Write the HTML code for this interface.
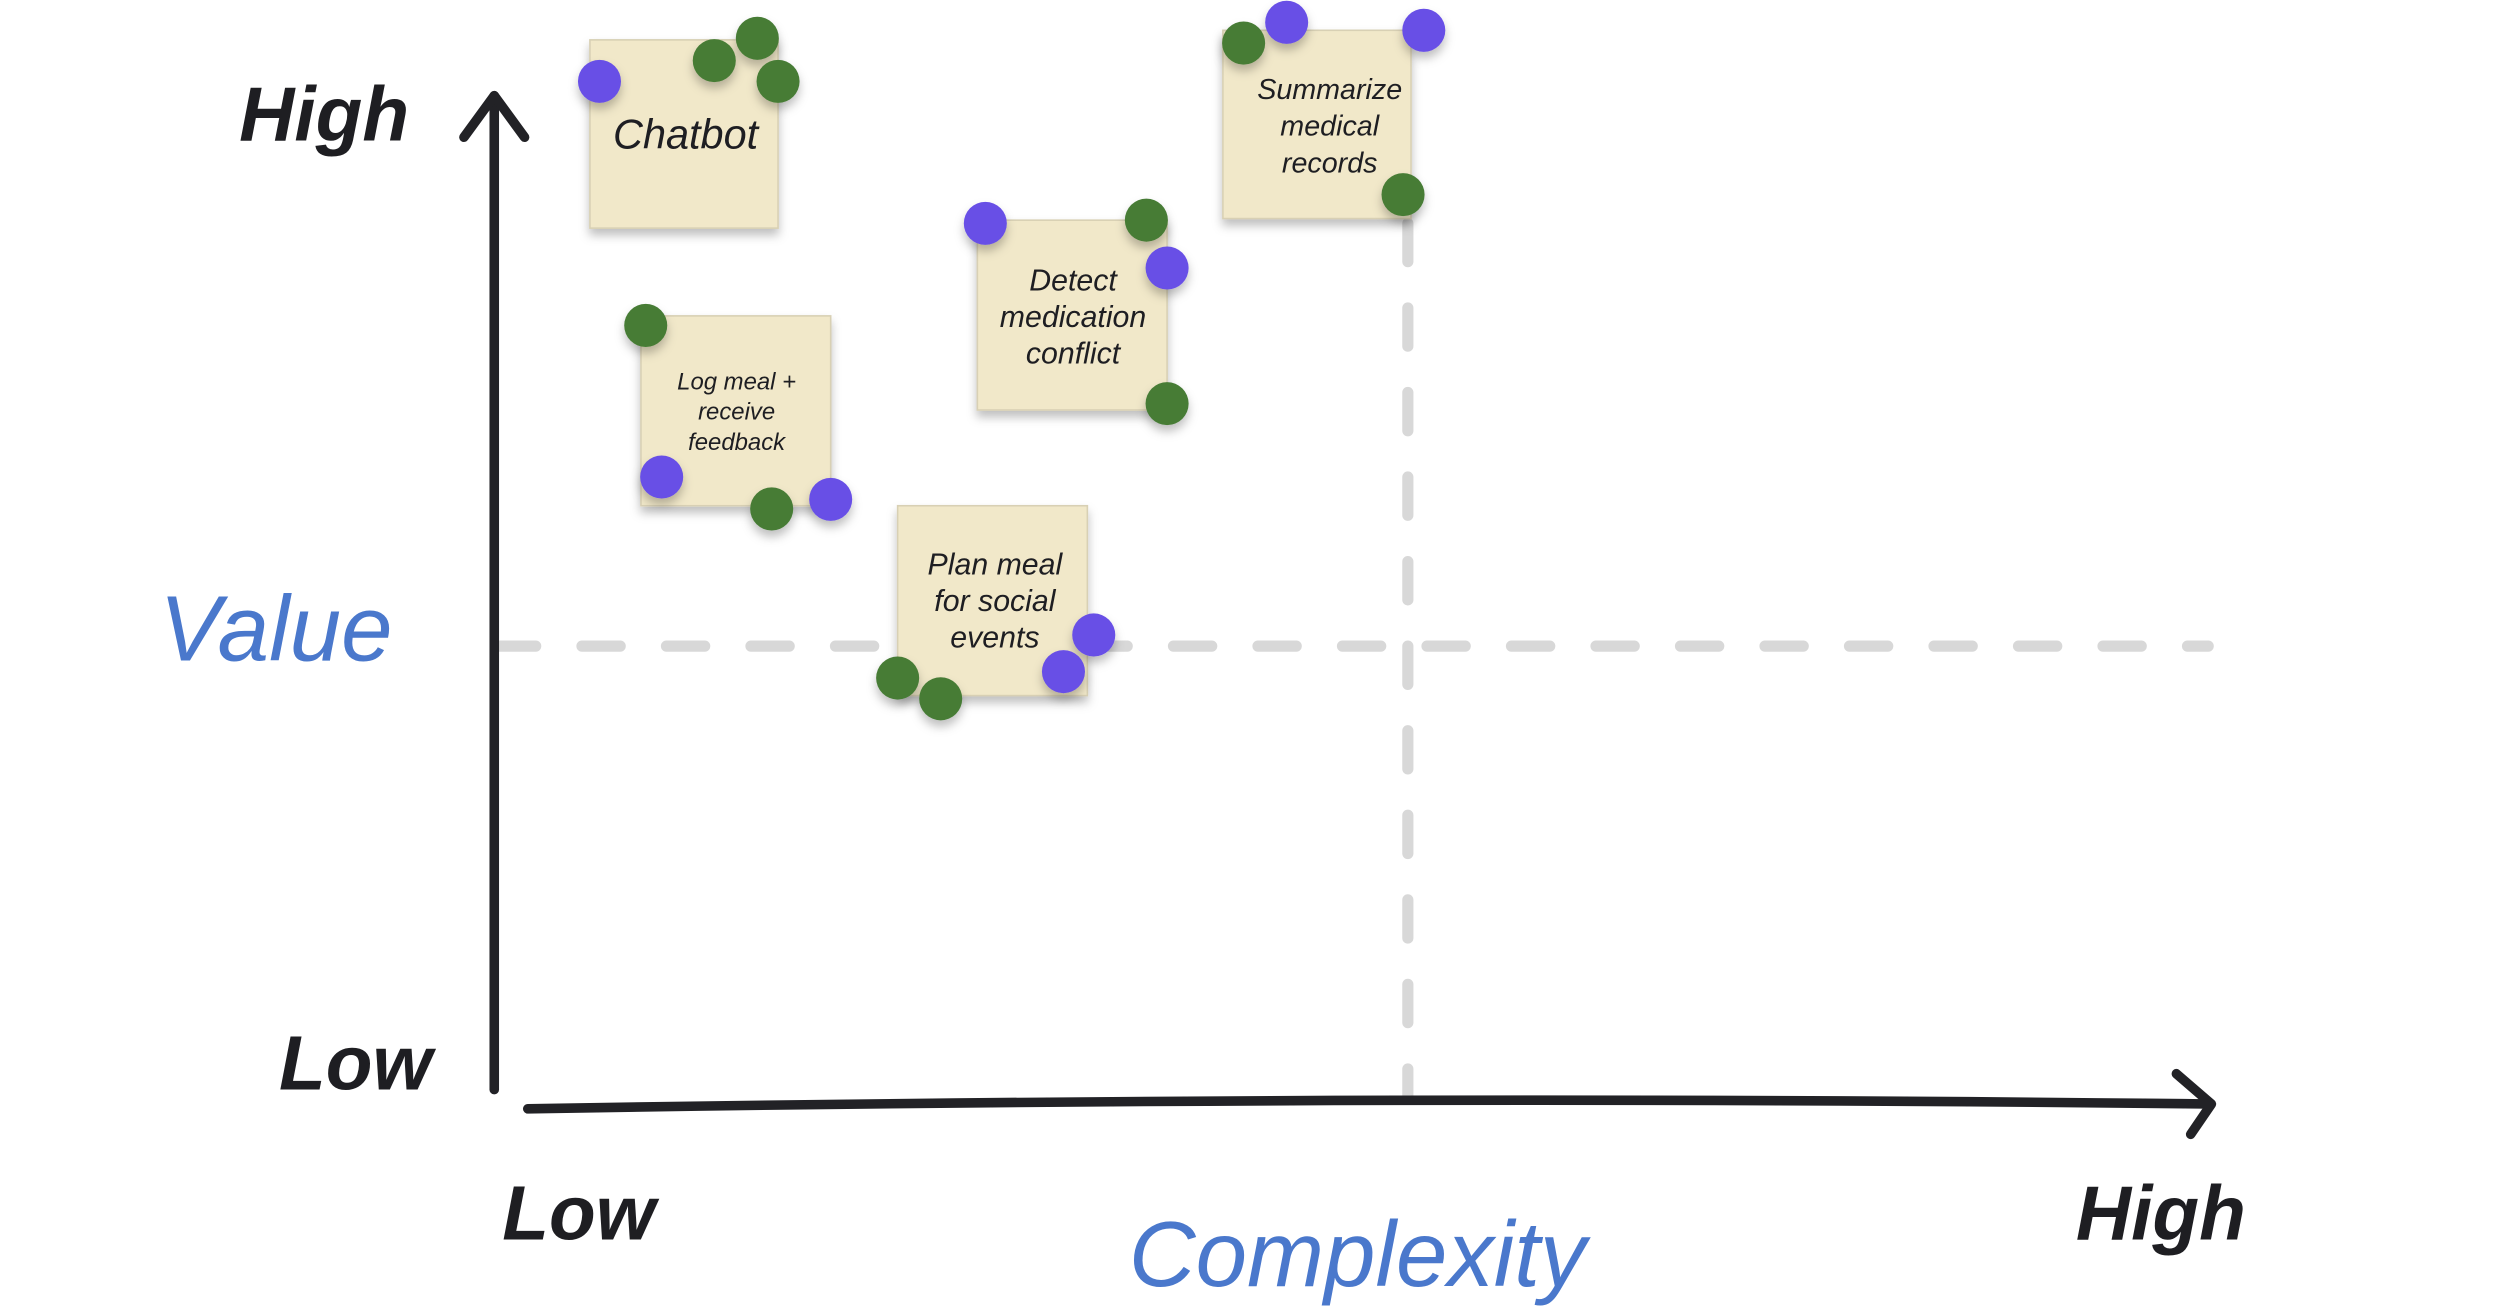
<!DOCTYPE html>
<html><head><meta charset="utf-8"><style>
html,body{margin:0;padding:0;background:#fff;}
svg{display:block;}
text{font-family:"Liberation Sans",sans-serif;font-style:italic;}
</style></head><body>
<svg width="2500" height="1313" viewBox="0 0 1568 823" preserveAspectRatio="none" xmlns="http://www.w3.org/2000/svg">
<defs>
<filter id="sh" x="-20%" y="-20%" width="140%" height="150%"><feDropShadow dx="0" dy="4" stdDeviation="3" flood-color="#000" flood-opacity="0.25"/></filter>
</defs>
<line x1="312" y1="405" x2="1385" y2="405" stroke="#d8d8d8" stroke-width="7" stroke-linecap="round" stroke-dasharray="24 29"/>
<line x1="883" y1="140" x2="883" y2="688" stroke="#d8d8d8" stroke-width="7" stroke-linecap="round" stroke-dasharray="24 29"/>
<g stroke="#222226" stroke-width="6" fill="none" stroke-linecap="round" stroke-linejoin="round">
<line x1="310" y1="60" x2="310" y2="683"/>
<polyline points="291,86 310,60 329,86"/>
<path d="M331 695 Q860 686 1386 692"/>
<polyline points="1365,673 1387,692 1374,711"/>
</g>
<g fill="#1e1e22" font-weight="bold" font-size="48">
<text x="150" y="88">High</text>
<text x="175" y="683">Low</text>
<text x="315" y="777">Low</text>
<text x="1302" y="777">High</text>
</g>
<g fill="#4a78cc" font-size="58">
<text x="100" y="414">Value</text>
<text x="708" y="806">Complexity</text>
</g>
<g fill="#f1e8c9" stroke="#d8d0b4" stroke-width="1" filter="url(#sh)">
<rect x="370" y="25" width="118" height="118"/>
<rect x="402" y="198" width="119" height="119"/>
<rect x="613" y="138" width="119" height="119"/>
<rect x="563" y="317" width="119" height="119"/>
<rect x="767" y="19" width="118" height="118"/>
</g>
<g fill="#1e1e22" text-anchor="middle">
<text x="430" y="93" font-size="26">Chatbot</text>
<g font-size="15"><text x="462" y="244">Log meal +</text><text x="462" y="263">receive</text><text x="462" y="282">feedback</text></g>
<g font-size="19"><text x="673" y="182">Detect</text><text x="673" y="205">medication</text><text x="673" y="228">conflict</text></g>
<g font-size="19"><text x="624" y="360">Plan meal</text><text x="624" y="383">for social</text><text x="624" y="406">events</text></g>
<g font-size="18"><text x="834" y="62">Summarize</text><text x="834" y="85">medical</text><text x="834" y="108">records</text></g>
</g>
<g filter="url(#sh)">
<g fill="#467b36">
<circle cx="448" cy="38" r="13.5"/><circle cx="475" cy="24" r="13.5"/><circle cx="488" cy="51" r="13.5"/>
<circle cx="405" cy="204" r="13.5"/><circle cx="484" cy="319" r="13.5"/>
<circle cx="719" cy="138" r="13.5"/><circle cx="732" cy="253" r="13.5"/>
<circle cx="563" cy="425" r="13.5"/><circle cx="590" cy="438" r="13.5"/>
<circle cx="780" cy="27" r="13.5"/><circle cx="880" cy="122" r="13.5"/>
</g>
<g fill="#6750e6">
<circle cx="376" cy="51" r="13.5"/>
<circle cx="415" cy="299" r="13.5"/><circle cx="521" cy="313" r="13.5"/>
<circle cx="618" cy="140" r="13.5"/><circle cx="732" cy="168" r="13.5"/>
<circle cx="686" cy="398" r="13.5"/><circle cx="667" cy="421" r="13.5"/>
<circle cx="807" cy="14" r="13.5"/><circle cx="893" cy="19" r="13.5"/>
</g>
</g>
</svg>
</body></html>
